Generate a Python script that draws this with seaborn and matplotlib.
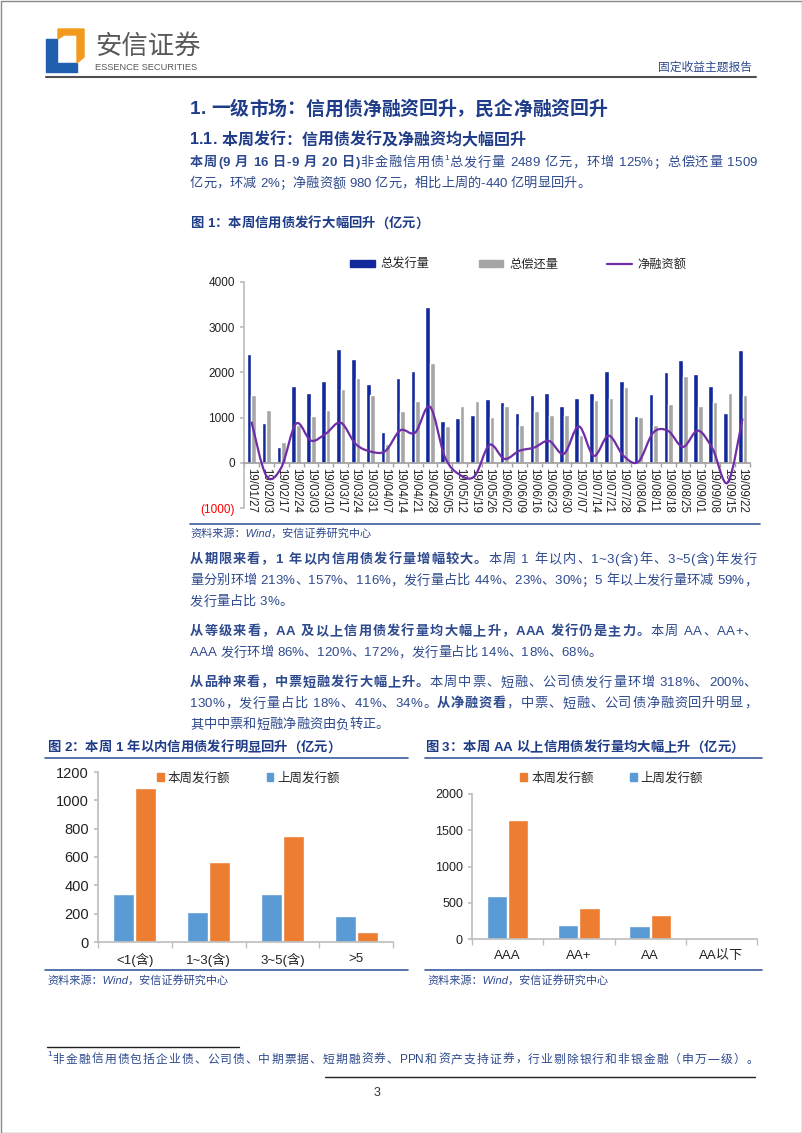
import numpy as np
import pandas as pd
import seaborn as sns
import matplotlib.pyplot as plt
from matplotlib.path import Path
from matplotlib.patches import PathPatch, Polygon, Rectangle, Patch
from matplotlib.lines import Line2D
from matplotlib.font_manager import FontProperties

# ---- data ----
weeks = ['19/01/27', '19/02/03', '19/02/17', '19/02/24', '19/03/03', '19/03/10', '19/03/17',
         '19/03/24', '19/03/31', '19/04/07', '19/04/14', '19/04/21', '19/04/28', '19/05/05',
         '19/05/12', '19/05/19', '19/05/26', '19/06/02', '19/06/09', '19/06/16', '19/06/23',
         '19/06/30', '19/07/07', '19/07/14', '19/07/21', '19/07/28', '19/08/04', '19/08/11',
         '19/08/18', '19/08/25', '19/09/01', '19/09/08', '19/09/15', '19/09/22']
issue = [2400, 873, 360, 1695, 1534, 1820, 2510, 2290, 1740, 675, 1870, 2025, 3442, 932,
         983, 1064, 1402, 1336, 1094, 1490, 1534, 1248, 1424, 1534, 2025, 1820, 1028, 1512,
         2004, 2268, 1960, 1710, 1106, 2489]
repay = [1490, 1160, 470, 829, 1042, 1174, 1622, 1872, 1490, 415, 1152, 1358, 2202, 807,
         1248, 1358, 1005, 1250, 829, 1152, 1050, 1050, 617, 1380, 1424, 1666, 1005, 844,
         1299, 1916, 1248, 1336, 1540, 1509]
net = [910, -287, -110, 866, 490, 646, 888, 418, 250, 260, 718, 667, 1240, 125, -265, -294,
       397, 86, 265, 338, 484, 198, 807, 154, 601, 154, 23, 668, 705, 352, 712, 300, -440, 980]

term_labels = ['<1(含)', '1~3(含)', '3~5(含)', '>5']
term_this = [1086, 567, 751, 71]
term_last = [342, 212, 342, 187]

grade_labels = ['AAA', 'AA+', 'AA', 'AA以下']
grade_this = [1637, 432, 331, 18]
grade_last = [598, 198, 179, 0]

NAVY, GREY, PURPLE = '#12299B', '#A6A6A6', '#6F2DA8'
ORANGE, LBLUE = '#ED7D31', '#5B9BD5'
HEAD, BODY = '#1F3C88', '#2E4A8E'
FAMILY = ['Liberation Sans', 'Noto Sans CJK SC']

sns.set_theme(style='white')
plt.rcParams['font.family'] = FAMILY

W, H = 802, 1133
fig = plt.figure(figsize=(W / 100, H / 100), dpi=100)
renderer = fig.canvas.get_renderer()

# overlay in pixel coordinates for page decoration and text
ov = fig.add_axes([0, 0, 1, 1])
ov.set_xlim(0, W)
ov.set_ylim(H, 0)
ov.axis('off')

ov.add_patch(Rectangle((0.5, 0.5), W - 1, H - 1, fill=False, ec='#888888', lw=1))
ov.add_patch(Polygon([(46, 39), (57, 39), (57, 63), (77, 63), (77, 72), (46, 72)], color='#1F5FAE'))
ov.add_patch(Polygon([(58, 29), (84, 29), (84, 57), (77, 63), (77, 35), (64, 35), (58, 39)], color='#F39A1E'))
ov.text(95, 46, '安信证券', fontsize=19, color='#595959', va='center')
ov.text(95, 67, 'ESSENCE SECURITIES', fontsize=6.7, color='#595959', va='center')
ov.text(752, 68, '固定收益主题报告', fontsize=8.5, color=BODY, va='center', ha='right')
ov.plot([46, 756], [77, 77], color='#505050', lw=1.5)

_adv = {}


def advance(ch, size, bold):
    key = (ch, size, bold)
    if key not in _adv:
        fp = FontProperties(family=FAMILY, size=size, weight='bold' if bold else 'normal')
        w1 = renderer.get_text_width_height_descent('|' + ch + '|', fp, ismath=False)[0]
        w0 = renderer.get_text_width_height_descent('||', fp, ismath=False)[0]
        _adv[key] = w1 - w0
    return _adv[key]


def latin(c):
    return c.isascii() and c != ' '


def line(x, y, segs, size=9.5, color=BODY, right=None):
    items = []
    for s, b in segs:
        if b == 'sup':
            items.append((s, 6, False, -5))
        else:
            for ch in s:
                items.append((ch, size, bool(b), 0))
    advs = [advance(c, sz, b) for c, sz, b, _ in items]
    # stretch only between CJK characters / spaces, keep latin runs tight
    ok = [not (latin(items[i][0]) and latin(items[i + 1][0])) for i in range(len(items) - 1)]
    gap = 0
    if right is not None and sum(ok):
        gap = (right - x - sum(advs)) / sum(ok)
    for i, ((c, sz, b, dy), a) in enumerate(zip(items, advs)):
        if c != ' ':
            ov.text(x, y + dy, c, fontsize=sz, color=color, va='center', ha='left',
                    fontweight='bold' if b else 'normal')
        x += a + (gap if i < len(ok) and ok[i] else 0)


R = 757
line(190, 110, [('1. 一级市场：信用债净融资回升，民企净融资回升', True)], size=13.6, color=HEAD)
line(190, 140, [('1.1. 本周发行：信用债发行及净融资均大幅回升', True)], size=11.5, color=HEAD)
line(190, 163, [('本周(9 月 16 日-9 月 20 日)', True), ('非金融信用债', False), ('1', 'sup'),
                ('总发行量 2489 亿元，环增 125%；总偿还量 1509', False)], right=R)
line(190, 184, [('亿元，环减 2%；净融资额 980 亿元，相比上周的-440 亿明显回升。', False)])
line(190, 224, [('图 1：本周信用债发行大幅回升（亿元）', True)], size=9.6, color=HEAD)

line(190, 560, [('从期限来看，1 年以内信用债发行量增幅较大。', True),
                ('本周 1 年以内、1~3(含)年、3~5(含)年发行', False)], right=R)
line(190, 581, [('量分别环增 213%、157%、116%，发行量占比 44%、23%、30%；5 年以上发行量环减 59%，', False)],
     right=R)
line(190, 602, [('发行量占比 3%。', False)])
line(190, 632, [('从等级来看，AA 及以上信用债发行量均大幅上升，AAA 发行仍是主力。', True),
                ('本周 AA、AA+、', False)], right=R)
line(190, 653, [('AAA 发行环增 86%、120%、172%，发行量占比 14%、18%、68%。', False)])
line(190, 683, [('从品种来看，中票短融发行大幅上升。', True),
                ('本周中票、短融、公司债发行量环增 318%、200%、', False)], right=R)
line(190, 704, [('130%，发行量占比 18%、41%、34%。', False), ('从净融资看', True),
                ('，中票、短融、公司债净融资回升明显，', False)], right=R)
line(190, 725, [('其中中票和短融净融资由负转正。', False)])

line(47, 748, [('图 2：本周 1 年以内信用债发行明显回升（亿元）', True)], size=9.6, color=HEAD)
line(425, 748, [('图 3：本周 AA 以上信用债发行量均大幅上升（亿元）', True)], size=9.6, color=HEAD)
for x0, x1 in [(45, 408), (425, 762)]:
    ov.plot([x0, x1], [758, 758], color='#3A5BA0', lw=1.2)
    ov.plot([x0, x1], [970, 970], color='#3A5BA0', lw=1.2)
    ov.text(x0 + 2, 980, '资料来源：Wind，安信证券研究中心', fontsize=8, color=BODY,
            va='center', style='italic')
ov.plot([190, 760], [524, 524], color='#3A5BA0', lw=1.2)
ov.text(190, 533, '资料来源：Wind，安信证券研究中心', fontsize=8, color=BODY, va='center', style='italic')

ov.plot([47, 239], [1047, 1047], color='#222222', lw=1)
line(47, 1060, [('1', 'sup'), ('非金融信用债包括企业债、公司债、中期票据、短期融资券、PPN和资产支持证券，行业剔除银行和非银金融（申万一级）。', False)],
     size=8.5, right=758)
ov.plot([325, 755], [1077, 1077], color='#222222', lw=1)
ov.text(377, 1093, '3', fontsize=9, color='#333333', va='center', ha='center')

# ---- chart 1 ----
df1 = pd.DataFrame({'week': weeks * 2, 'value': issue + repay,
                    'kind': ['总发行量'] * len(weeks) + ['总偿还量'] * len(weeks)})
ax1 = fig.add_axes([244 / W, 1 - 508 / H, (750 - 244) / W, (508 - 282) / H])
sns.barplot(data=df1, x='week', y='value', hue='kind', palette=[NAVY, GREY], width=0.62,
            gap=0, saturation=1, legend=False, ax=ax1)
# smoothed net-financing line (Excel style smoothing through the points)
pts = np.column_stack([np.arange(len(net)), net]).astype(float)
verts, codes = [pts[0]], [Path.MOVETO]
n = len(pts)
for i in range(n - 1):
    p0, p1, p2, p3 = pts[max(i - 1, 0)], pts[i], pts[i + 1], pts[min(i + 2, n - 1)]
    verts += [p1 + (p2 - p0) / 6, p2 - (p3 - p1) / 6, p2]
    codes += [Path.CURVE4] * 3
ax1.add_patch(PathPatch(Path(verts, codes), fill=False, ec=PURPLE, lw=1.6, zorder=5))
ax1.set_xlim(-0.5, n - 0.5)
ax1.set_ylim(-1000, 4000)
ax1.set_yticks(range(-1000, 4001, 1000))
ax1.set_yticklabels(['(1000)', '0', '1000', '2000', '3000', '4000'])
ax1.set_xlabel('')
ax1.set_ylabel('')
for s in ['top', 'right']:
    ax1.spines[s].set_visible(False)
ax1.spines['left'].set_color('#BFBFBF')
ax1.spines['bottom'].set_color('#A0A0A0')
ax1.spines['bottom'].set_position(('data', 0))
ax1.set_xticks(np.arange(-0.5, n, 1), minor=True)
ax1.tick_params(axis='x', which='major', length=0, labelrotation=270, labelsize=8.3, pad=4,
                colors='#222222')
ax1.tick_params(axis='x', which='minor', bottom=True, length=3, color='#A0A0A0')
ax1.tick_params(axis='y', left=True, length=3, color='#BFBFBF', labelsize=8.5, colors='#222222')
ax1.get_yticklabels()[0].set_color('red')
ax1.patch.set_visible(False)
ax1.legend([Patch(color=NAVY), Patch(color=GREY), Line2D([], [], color=PURPLE, lw=1.6)],
           ['总发行量', '总偿还量', '净融资额'], loc='lower center', bbox_to_anchor=(0.5425, 1.0),
           ncol=3, frameon=False, fontsize=8.8, handlelength=2.0, handleheight=0.5,
           handletextpad=0.5, columnspacing=4)


def group_chart(rect, labels, this, last, ymax, step, legend_x, legend_y, ysize):
    ax = fig.add_axes(rect)
    df = pd.DataFrame({'cat': labels * 2, 'value': last + this,
                       'week': ['上周发行额'] * len(labels) + ['本周发行额'] * len(labels)})
    sns.barplot(data=df, x='cat', y='value', hue='week', palette=[LBLUE, ORANGE], width=0.6,
                gap=0.05, saturation=1, legend=False, ax=ax)
    ax.set_xlim(-0.5, len(labels) - 0.5)
    ax.set_ylim(0, ymax)
    ax.set_yticks(range(0, ymax + 1, step))
    ax.set_xlabel('')
    ax.set_ylabel('')
    for s in ['top', 'right']:
        ax.spines[s].set_visible(False)
    ax.spines['left'].set_color('#BFBFBF')
    ax.spines['bottom'].set_color('#BFBFBF')
    ax.set_xticks(np.arange(-0.5, len(labels), 1), minor=True)
    ax.tick_params(axis='x', which='major', length=0, labelsize=9.5, pad=8, colors='#222222')
    ax.tick_params(axis='x', which='minor', bottom=True, length=4, color='#BFBFBF')
    ax.tick_params(axis='y', left=True, length=3, color='#BFBFBF', labelsize=ysize,
                   colors='#222222')
    ax.patch.set_visible(False)
    ax.legend([Patch(color=ORANGE), Patch(color=LBLUE)], ['本周发行额', '上周发行额'],
              loc='center', bbox_to_anchor=(legend_x, legend_y), ncol=2, frameon=False,
              fontsize=9, handlelength=0.55, handleheight=0.55, handletextpad=0.3,
              columnspacing=2.9)
    return ax


group_chart([98 / W, 1 - 942 / H, 295 / W, 170 / H], term_labels, term_this, term_last,
            1200, 200, 0.51, 0.965, 10.5)
group_chart([472 / W, 1 - 939 / H, 285 / W, 145 / H], grade_labels, grade_this, grade_last,
            2000, 500, 0.49, 1.11, 9)

fig.savefig('out.png', dpi=100)
